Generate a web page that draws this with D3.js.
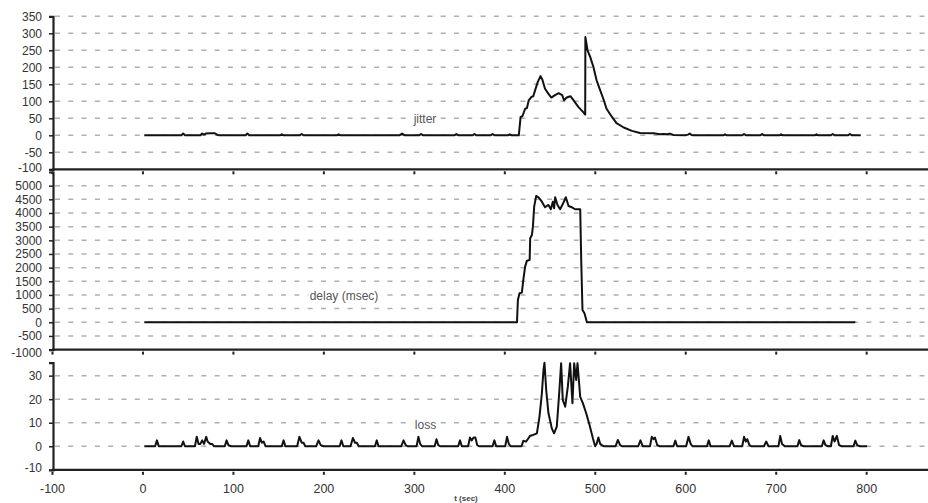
<!DOCTYPE html>
<html><head><meta charset="utf-8">
<script src="https://cdn.jsdelivr.net/npm/d3@7"></script>
<style>
html,body{margin:0;padding:0;background:#fff;}
svg{display:block;font-family:Arial,"Liberation Sans",sans-serif;}
</style></head>
<body><svg id="c" width="928" height="503"></svg>
<script>
// ---- data (time in sec, value) ----
const xTicks = [-100,0,100,200,300,400,500,600,700,800];
const jitterTicks = [-100,-50,0,50,100,150,200,250,300,350];
const delayTicks = [-1000,-500,0,500,1000,1500,2000,2500,3000,3500,4000,4500,5000];
const lossTicks = [-10,0,10,20,30];

const jitter = [[2,0],[43,0],[45,5],[47,0],[64,0],[66,5],[68,2],[70,5],[75,6],[80,6],[83,1],[85,0],[114,0],[116,5],[118,0],[152,0],[154,3],[156,0],[174,0],[176,4],[178,0],[215,0],[217,3],[219,0],[284,0],[287,5],[290,0],[306,0],[308,4],[310,0],[345,0],[347,4],[349,0],[365,0],[367,4],[369,0],[385,0],[387,4],[389,0],[404,0],[406,3],[408,0],[416,0],[418,54],[420,56],[423,78],[425,80],[427,103],[430,113],[432,115],[434,132],[437,157],[440,174],[442,164],[445,137],[449,121],[452,111],[456,118],[460,124],[464,118],[466,103],[469,111],[473,115],[476,105],[482,83],[487,69],[489.4,61],[489.6,289],[492,250],[495,230],[498.5,201],[502,162],[506,132],[510,103],[513,78],[519,54],[524,36],[532,23],[541,13],[550,7],[565,6],[572,3],[576,4],[580,3],[583,5],[587,1],[600,0],[603,2],[605,5],[607,1],[609,0],[642,0],[644,3],[646,0],[663,0],[665,4],[667,0],[683,0],[685,4],[687,0],[704,0],[706,3],[708,0],[743,0],[745,3],[747,0],[761,0],[763,4],[765,0],[780,0],[782,4],[784,0],[794,0]];

const delay = [[2,0],[414,0],[415,816],[416.8,1061],[419.4,1085],[421,1548],[423,2036],[425,2255],[428,2280],[428.6,3074],[430.5,3195],[431.6,3500],[433,4232],[435.2,4623],[437.8,4575],[441.5,4414],[445,4209],[448.8,4294],[451.4,4136],[453.6,4414],[455,4172],[456.2,4575],[458.8,4294],[461.7,4136],[465.4,4378],[468,4575],[471,4257],[474.7,4209],[478.3,4136],[483.9,4136],[485,2280],[486.4,450],[488.6,329],[491.3,0],[788,0]];

const loss = [[2,0],[14,0],[16,2.5],[18,0],[43,0],[45,2],[47,0],[58,0],[60,4],[62,1],[64,1],[66,2.5],[68,1],[70.5,4],[72,2],[75,1],[77,1],[79,0],[91,0],[93,2.5],[95,0.5],[98,0],[115,0],[117,2.5],[119,0],[128,0],[130,3.5],[132,1.5],[134,2],[136,0],[154,0],[156,2.5],[158,0],[171,0],[173.5,4],[176,1.5],[178,1.5],[180,0],[192,0],[194.6,2.5],[197,0.5],[200,0],[218,0],[220,2.5],[222,0],[230,0],[232.6,3.5],[235,1.5],[237,1.5],[239,0],[257,0],[259,2.5],[261,0],[286,0],[288.6,2.5],[291,0.5],[293,0],[303,0],[305,4],[307,1],[309,0],[323,0],[325,3],[327,0.5],[329,0],[349,0],[351,2.5],[353,0],[360,0],[362,3.7],[364,2.5],[366,3.7],[368,3.7],[370,0.5],[372,0],[387,0],[389,2.5],[391,0],[401,0],[403,4],[405,1],[407,0],[419,0],[421,2.3],[424,2],[426.7,3.4],[428.6,4.5],[432,4.8],[436,5.5],[438.9,12.6],[441.5,22.5],[443.3,32.4],[444.4,35.5],[446.3,23.9],[448.8,14],[452.5,7.6],[455,5.5],[458,8.3],[460.9,23.9],[462.8,35.3],[464.6,19.7],[467.3,16.8],[470.2,25.3],[472.7,35.3],[475.3,18.3],[477.2,35.3],[479.4,28.2],[480.9,35.3],[483.9,21],[486.8,18.3],[490.5,14],[494.2,9],[497.9,3.4],[500.4,0],[502,1],[504,3.7],[506,1],[507.8,0.5],[510,0],[523,0],[525.5,2.7],[528,0.5],[530,0],[548,0],[550.5,2.5],[553,0],[561,0],[563,4],[565,3],[566.5,3.7],[569,0.5],[572,0],[587,0],[589,2.4],[591,0],[601,0],[603.6,4],[606,1],[608,0],[624,0],[626,2.5],[628,0],[649,0],[651.5,2.4],[654,0],[663,0],[665,4],[667,2],[668.5,3],[671,0.5],[673,0],[687,0],[689.5,2],[692,0],[703,0],[705,4.4],[707,1],[710,0],[724,0],[726,2.6],[728,0.5],[731,0],[751,0],[753,2.5],[755,0.5],[758,0],[761,0],[763,4.4],[765,2],[767.6,4.4],[770,0.5],[773,0],[786,0],[788,2.4],[790,0.5],[793,0],[801,0]];

const panels = [
  {name:"jitter", data:jitter, domain:[-100,350], range:[169.3,16.3], ticks:jitterTicks, label:"jitter", lx:425, ly:123},
  {name:"delay", data:delay, domain:[-1000,5500], range:[349.6,172], ticks:delayTicks, label:"delay (msec)", lx:344, ly:300},
  {name:"loss", data:loss, domain:[-10,35.5], range:[469.8,362.7], ticks:lossTicks, label:"loss", lx:425.5, ly:429}
];

const svg = d3.select("#c");
const x = d3.scaleLinear().domain([-100,870]).range([52,929.5]);
const W = 928;
const axisColor = "#222";
const textColor = "#333";
const fmt = d => String(d);

panels.forEach((p, i) => {
  const y = d3.scaleLinear().domain(p.domain).range(p.range);
  const g = svg.append("g");
  // gridlines
  g.selectAll("line.grid").data(p.ticks.filter(t => t !== p.domain[0]))
    .join("line")
    .attr("x1", 55).attr("x2", W)
    .attr("y1", d => y(d)).attr("y2", d => y(d))
    .attr("stroke", "#b0b0b0").attr("stroke-width", 1.5)
    .attr("stroke-dasharray", "5,8.3");
  // label
  g.append("text").attr("x", p.lx).attr("y", p.ly)
    .attr("text-anchor","middle").attr("font-size", 12).attr("fill", "#555")
    .attr("stroke","#fff").attr("stroke-width",4).attr("paint-order","stroke")
    .text(p.label);
  // line
  const line = d3.line().x(d => x(d[0])).y(d => y(d[1]));
  g.append("path").datum(p.data).attr("d", line)
    .attr("fill","none").attr("stroke","#111").attr("stroke-width",2)
    .attr("stroke-linejoin","round");
  // y axis
  const ya = g.append("g").attr("transform","translate(53,0)")
    .call(d3.axisLeft(y).tickValues(p.ticks).tickSize(4).tickPadding(7).tickFormat(fmt));
  ya.select(".domain").attr("stroke", axisColor).attr("stroke-width", 2.2);
  ya.selectAll(".tick line").attr("stroke", axisColor).attr("stroke-width", 1.5);
  ya.selectAll(".tick text").attr("font-size", 12).attr("fill", textColor)
    .attr("font-family","Arial,'Liberation Sans',sans-serif")
    .attr("dy", d => d === p.domain[0] ? (i === 1 ? "0.55em" : "0.15em") : "0.32em");
  // x axis line with ticks
  const xa = g.append("g").attr("transform", `translate(0,${p.range[0]})`)
    .call(d3.axisBottom(x).tickValues(xTicks).tickSize(5).tickFormat(i === 2 ? fmt : ""));
  xa.select(".domain").attr("d", `M52,0H${W}`).attr("stroke", axisColor).attr("stroke-width", 2.2);
  xa.selectAll(".tick line").attr("stroke", axisColor).attr("stroke-width", 2).attr("y1", 2);
  xa.selectAll(".tick text").attr("font-size", 12.5).attr("fill", textColor)
    .attr("font-family","Arial,'Liberation Sans',sans-serif").attr("dy", "1.25em");
});

svg.append("text").attr("x", 466).attr("y", 501).attr("text-anchor","middle")
  .attr("font-size", 8).attr("font-weight","bold").attr("fill","#444").text("t (sec)");
</script></body></html>
